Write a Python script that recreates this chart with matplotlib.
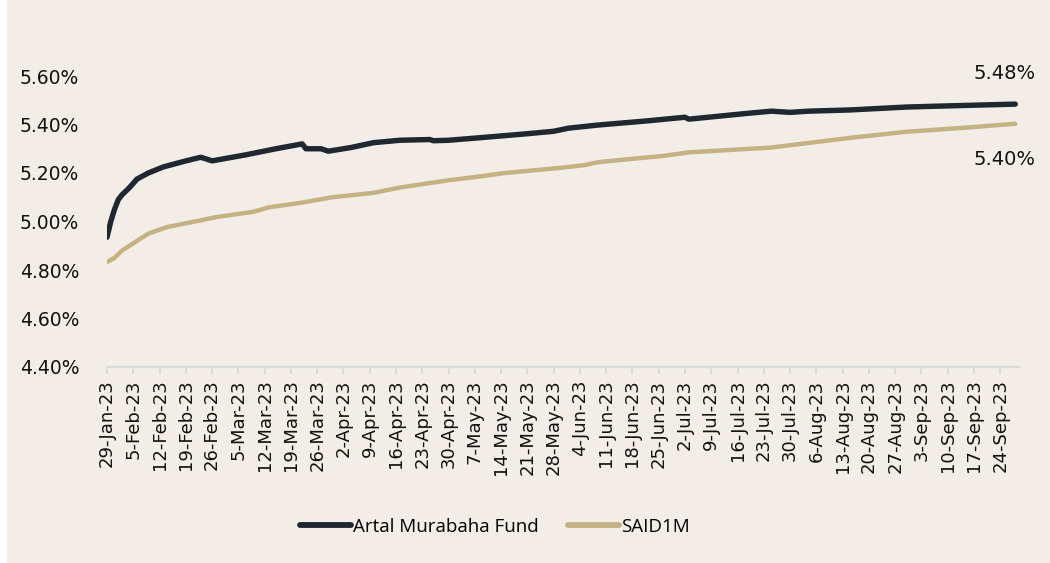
import matplotlib
matplotlib.use("Agg")
import matplotlib.pyplot as plt
import matplotlib.patches as mpatches
import pandas as pd

# Artal Murabaha Fund (annualised yield, %)
fund_dates = ["2023-01-29", "2023-01-30", "2023-01-31", "2023-02-01", "2023-02-02",
              "2023-02-04", "2023-02-06", "2023-02-09", "2023-02-13", "2023-02-19",
              "2023-02-23", "2023-02-26", "2023-03-07", "2023-03-15", "2023-03-22",
              "2023-03-23", "2023-03-27", "2023-03-29", "2023-04-04", "2023-04-10",
              "2023-04-17", "2023-04-25", "2023-04-26", "2023-04-30", "2023-05-08",
              "2023-05-21", "2023-05-28", "2023-06-01", "2023-06-09", "2023-06-22",
              "2023-07-02", "2023-07-03", "2023-07-18", "2023-07-25", "2023-07-30",
              "2023-08-04", "2023-08-15", "2023-08-30", "2023-09-13", "2023-09-28"]
fund_values = [4.935, 5.00, 5.05, 5.09, 5.11,
               5.14, 5.175, 5.20, 5.225, 5.25,
               5.265, 5.25, 5.275, 5.30, 5.32,
               5.30, 5.30, 5.29, 5.305, 5.325,
               5.335, 5.338, 5.333, 5.335, 5.345,
               5.362, 5.372, 5.385, 5.398, 5.415,
               5.43, 5.422, 5.445, 5.455, 5.45,
               5.455, 5.46, 5.472, 5.478, 5.484]

# SAID1M benchmark (%)
said_dates = ["2023-01-29", "2023-01-31", "2023-02-02", "2023-02-06", "2023-02-09",
              "2023-02-14", "2023-02-23", "2023-02-27", "2023-03-09", "2023-03-13",
              "2023-03-22", "2023-03-30", "2023-04-10", "2023-04-17", "2023-04-30",
              "2023-05-08", "2023-05-15", "2023-05-22", "2023-05-29", "2023-06-05",
              "2023-06-09", "2023-06-19", "2023-06-26", "2023-07-03", "2023-07-25",
              "2023-08-15", "2023-08-30", "2023-09-13", "2023-09-28"]
said_values = [4.833, 4.85, 4.88, 4.92, 4.95,
               4.977, 5.005, 5.018, 5.04, 5.058,
               5.078, 5.10, 5.118, 5.14, 5.17,
               5.185, 5.20, 5.21, 5.22, 5.232,
               5.245, 5.26, 5.27, 5.285, 5.305,
               5.345, 5.37, 5.385, 5.403]

series_names = ["Artal Murabaha Fund", "SAID1M"]
y_ticks = [4.40, 4.60, 4.80, 5.00, 5.20, 5.40, 5.60]

BG = "#f2eee7"
DARK = "#1f2730"
TAN = "#c4b283"


def main():
    fund = pd.Series(fund_values, index=pd.to_datetime(fund_dates))
    said = pd.Series(said_values, index=pd.to_datetime(said_dates))

    fig = plt.figure(figsize=(10.5, 5.63), dpi=100, facecolor="white")
    # beige panel, leaving a thin white strip on the left
    fig.patches.append(mpatches.Rectangle((7 / 1050, 0), 1, 1, transform=fig.transFigure,
                                          facecolor=BG, edgecolor="none", zorder=-5))

    ax = fig.add_axes([107 / 1050, 1 - 367 / 563, (1019 - 107) / 1050, (367 - 76) / 563])
    ax.patch.set_alpha(0)

    ax.plot(fund.index, fund.values, color=DARK, lw=3.9, solid_capstyle="round",
            solid_joinstyle="round", label=series_names[0], zorder=3)
    ax.plot(said.index, said.values, color=TAN, lw=3.2, solid_capstyle="round",
            solid_joinstyle="round", label=series_names[1], zorder=2)

    ax.set_xlim(pd.Timestamp("2023-01-29"), pd.Timestamp("2023-09-29"))
    ax.set_ylim(4.40, 5.60)
    ax.set_yticks(y_ticks)
    ax.set_yticklabels([f"{v:.2f}%" for v in y_ticks])

    ticks = pd.date_range("2023-01-29", "2023-09-24", freq="7D")
    ax.set_xticks(ticks)
    ax.set_xticklabels([f"{d.day}-{d.strftime('%b')}-23" for d in ticks], rotation=90)

    for side in ["top", "right", "left"]:
        ax.spines[side].set_visible(False)
    ax.spines["bottom"].set_color("#d9d9d9")
    ax.spines["bottom"].set_linewidth(1.6)
    ax.tick_params(axis="x", colors="#d9d9d9", length=5, width=1.4, labelcolor="#111111",
                   labelsize=13, pad=4)
    ax.tick_params(axis="y", length=0, labelsize=13.5, labelcolor="#111111", pad=20)

    # end-point labels
    ax.annotate(f"{fund.values[-1]:.2f}%", xy=(fund.index[-1], fund.values[-1]),
                xytext=(-8, 22), textcoords="offset points", ha="center", va="center",
                fontsize=14, color="#111111")
    ax.annotate(f"{said.values[-1]:.2f}%", xy=(said.index[-1], said.values[-1]),
                xytext=(-8, -26), textcoords="offset points", ha="center", va="center",
                fontsize=14, color="#111111")

    leg = fig.legend(loc="center", bbox_to_anchor=(495 / 1050, 1 - 527 / 563), ncol=2,
                     frameon=False, handlelength=2.7, handletextpad=0.1,
                     columnspacing=1.6, prop={"family": "Open Sans", "size": 13.5})
    for line in leg.get_lines():
        line.set_linewidth(4.2)

    fig.savefig("out.png", dpi=100, facecolor=fig.get_facecolor())
    plt.close(fig)


if __name__ == "__main__":
    main()
